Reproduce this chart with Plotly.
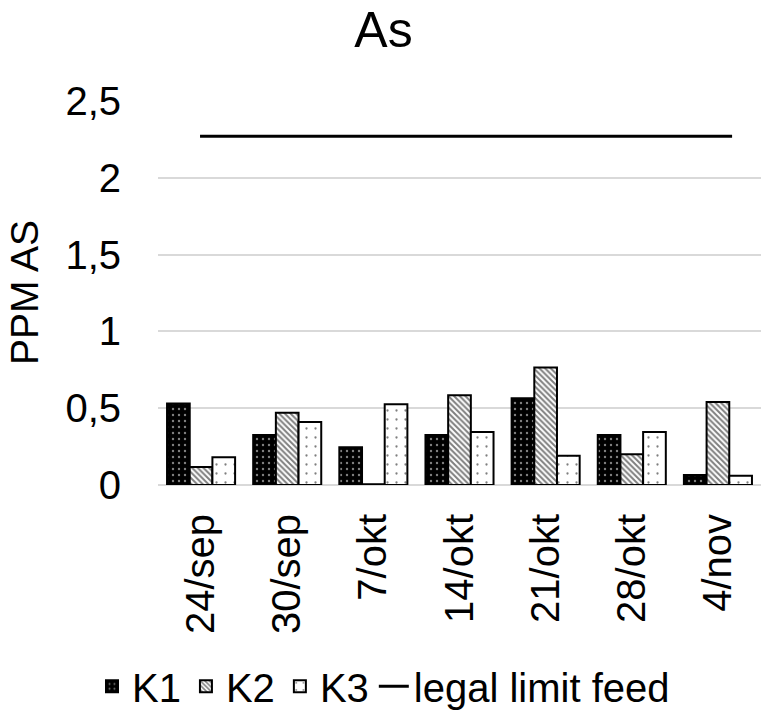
import plotly.graph_objects as go

dates = ["24/sep", "30/sep", "7/okt", "14/okt", "21/okt", "28/okt", "4/nov"]
k1 = [0.53, 0.325, 0.245, 0.325, 0.565, 0.325, 0.065]
k2 = [0.117, 0.47, 0.005, 0.585, 0.765, 0.2, 0.54]
k3 = [0.18, 0.41, 0.526, 0.345, 0.19, 0.345, 0.06]
legal_limit = [2.27] * len(dates)

FONT = "Liberation Sans, Arial, sans-serif"
outline = dict(color="black", width=2)

fig = go.Figure()
fig.add_trace(go.Bar(
    name="K1", x=dates, y=k1,
    marker=dict(color="black", line=outline,
                pattern=dict(shape=".", fgcolor="white", bgcolor="black",
                             size=6, solidity=0.12)),
))
fig.add_trace(go.Bar(
    name="K2", x=dates, y=k2,
    marker=dict(color="white", line=outline,
                pattern=dict(shape="\\", fgcolor="black", bgcolor="white",
                             size=4, solidity=0.5)),
))
fig.add_trace(go.Bar(
    name="K3", x=dates, y=k3,
    marker=dict(color="white", line=outline,
                pattern=dict(shape=".", fgcolor="black", bgcolor="white",
                             size=9, solidity=0.05)),
))
fig.add_trace(go.Scatter(
    name="legal limit feed", x=dates, y=legal_limit, xaxis="x2",
    mode="lines", line=dict(color="black", width=3),
))

fig.update_layout(
    width=767, height=712,
    paper_bgcolor="white", plot_bgcolor="white",
    margin=dict(l=158, r=6, t=100, b=227),
    barmode="group", bargap=0.21, bargroupgap=0,
    font=dict(family=FONT, size=40, color="black"),
    title=dict(text="As", x=0.5, xref="container", xanchor="center",
               y=0.958, yref="container", yanchor="middle",
               font=dict(size=50, family=FONT, color="black")),
    xaxis=dict(type="category", categoryorder="array", categoryarray=dates,
               tickangle=-90, showgrid=False, showline=False, zeroline=False,
               ticks="", ticklabelstandoff=20, tickfont=dict(size=40),
               automargin=False),
    xaxis2=dict(type="category", categoryorder="array", categoryarray=dates,
                overlaying="x", visible=False, range=[-0.474, 6.326]),
    yaxis=dict(range=[0, 2.506], tickvals=[0, 0.5, 1, 1.5, 2, 2.5],
               tickformat=".1~f",
               showgrid=True, gridcolor="#d9d9d9", gridwidth=1.5,
               zeroline=True, zerolinecolor="#d9d9d9", zerolinewidth=1.5,
               showline=False, ticks="", ticklabelstandoff=36,
               tickfont=dict(size=40), automargin=False,
               title=dict(text="PPM AS", font=dict(size=39), standoff=14)),
    separators=", ",
    showlegend=True,
    legend=dict(orientation="h", xref="container", x=0.5, xanchor="center",
                yref="container", y=0.036, yanchor="middle",
                font=dict(size=40), itemwidth=30, tracegroupgap=0,
                traceorder="normal"),
)

fig.write_html("out.html",
               config={"displayModeBar": False},
               post_script="document.body.style.margin='0px';")
